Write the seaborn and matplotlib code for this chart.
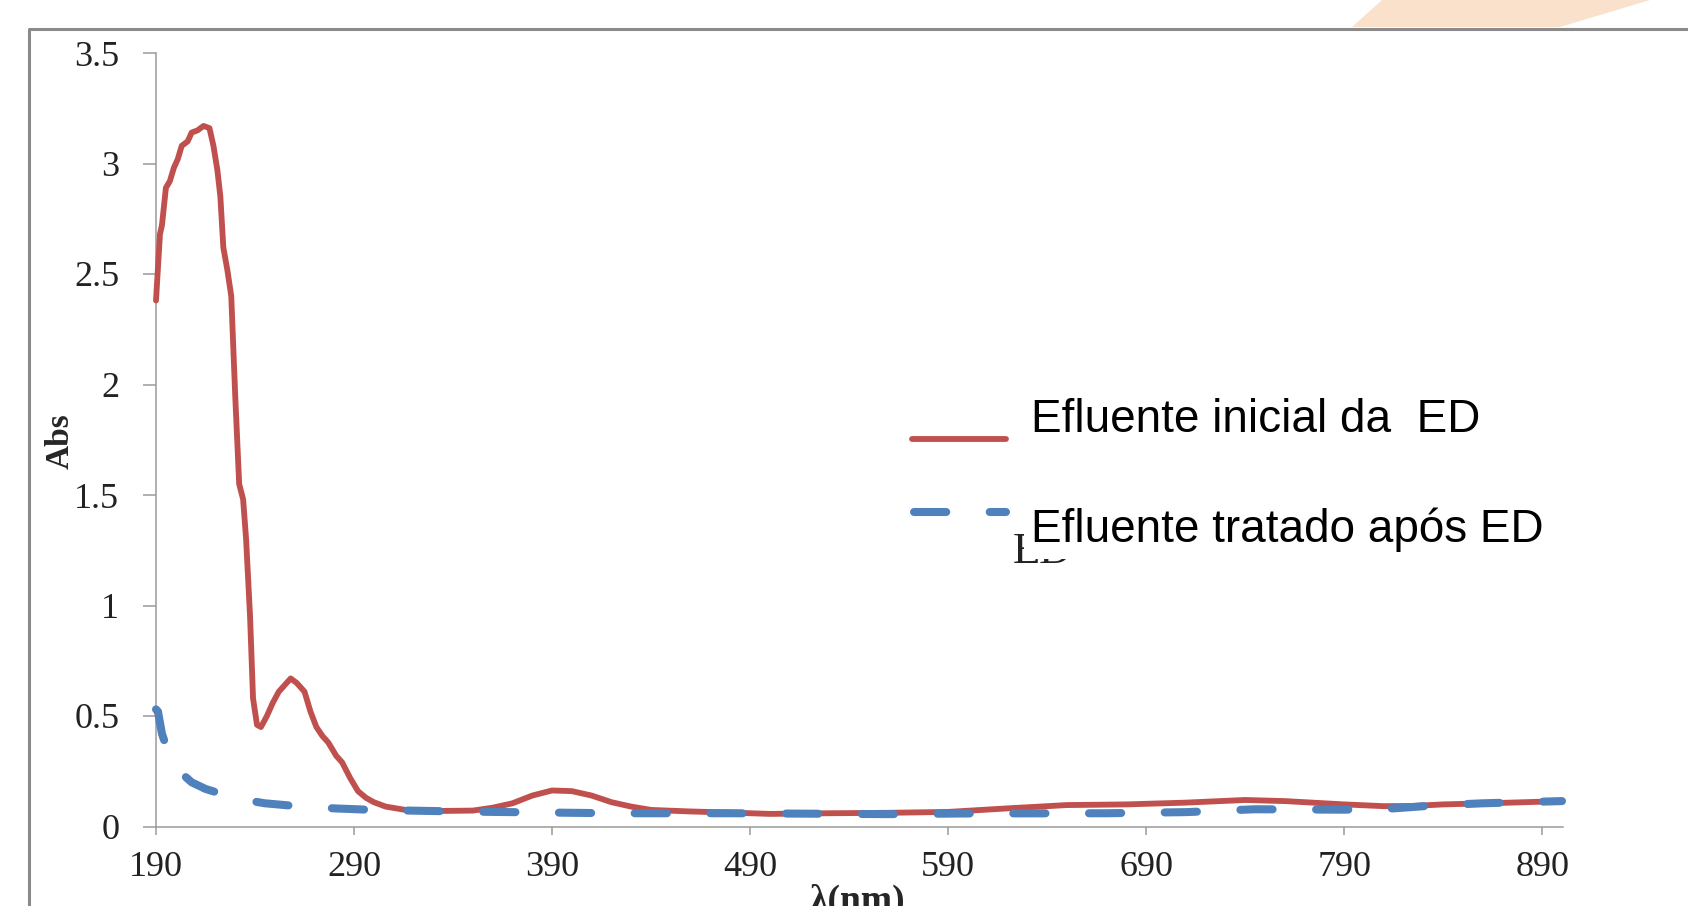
import numpy as np
import pandas as pd
import seaborn as sns
import matplotlib.pyplot as plt
from matplotlib.lines import Line2D
from matplotlib.patches import Polygon

# --- data ---
wl_inicial = [190, 192, 193, 195, 197, 199, 201, 203, 206, 208, 211, 214, 217,
              219, 221, 222.5, 224, 226, 228, 230, 232, 234, 235.5, 237.5, 239,
              241, 243, 246, 249, 252, 255, 258, 261, 265, 268, 271, 274, 277,
              281, 284, 288, 292, 296, 300, 306, 316, 330, 350, 360, 370, 380,
              390, 400, 410, 420, 430, 440, 460, 480, 500, 530, 560, 590, 620,
              650, 680, 710, 740, 760, 790, 810, 825, 840, 870, 900]
abs_inicial = [2.38, 2.68, 2.72, 2.89, 2.92, 2.98, 3.02, 3.08, 3.10, 3.14, 3.15,
               3.17, 3.16, 3.08, 2.97, 2.85, 2.62, 2.52, 2.40, 1.95, 1.55, 1.48,
               1.30, 0.95, 0.58, 0.46, 0.45, 0.50, 0.56, 0.61, 0.64, 0.67, 0.65,
               0.61, 0.52, 0.45, 0.41, 0.38, 0.32, 0.29, 0.22, 0.16, 0.13, 0.11,
               0.09, 0.075, 0.07, 0.072, 0.085, 0.105, 0.14, 0.163, 0.16, 0.14,
               0.11, 0.09, 0.075, 0.068, 0.063, 0.057, 0.06, 0.062, 0.066, 0.082,
               0.097, 0.100, 0.108, 0.12, 0.115, 0.10, 0.092, 0.093, 0.10, 0.107,
               0.115]

wl_tratado = [190, 191, 193, 196, 199, 203, 208, 215, 224, 235, 245, 260, 280,
              300, 330, 360, 420, 480, 560, 600, 670, 710, 745, 790, 815, 835,
              860, 900]
abs_tratado = [0.53, 0.52, 0.42, 0.34, 0.29, 0.24, 0.20, 0.17, 0.145, 0.12,
               0.105, 0.093, 0.082, 0.075, 0.07, 0.066, 0.06, 0.06, 0.056,
               0.059, 0.06, 0.065, 0.078, 0.076, 0.082, 0.095, 0.105, 0.115]

x_ticks = [190, 290, 390, 490, 590, 690, 790, 890]
y_ticks = [0, 0.5, 1, 1.5, 2, 2.5, 3, 3.5]
y_tick_labels = ["0", "0.5", "1", "1.5", "2", "2.5", "3", "3.5"]

label_inicial = "Efluente inicial da  ED"
label_tratado = "Efluente tratado após ED"

RED = "#C0504D"
BLUE = "#4F81BD"
GREY = "#9a9a9a"

sns.set_theme(style="white")
plt.rcParams["font.family"] = ["Liberation Serif", "DejaVu Serif"]

W, H = 1688, 906
fig = plt.figure(figsize=(W / 100, H / 100), dpi=100)


def fx(px):
    return px / W


def fy(py):
    return 1 - py / H


ax = fig.add_axes([fx(156), fy(826.5), fx(1563) - fx(156), fy(53) - fy(826.5)])

df_ini = pd.DataFrame({"wl": wl_inicial, "abs": abs_inicial})
df_tra = pd.DataFrame({"wl": wl_tratado, "abs": abs_tratado})

sns.lineplot(data=df_ini, x="wl", y="abs", ax=ax, color=RED, lw=4.2,
             estimator=None, sort=False, clip_on=False, zorder=3)
sns.lineplot(data=df_tra, x="wl", y="abs", ax=ax, color=BLUE, lw=5.8,
             estimator=None, sort=False, clip_on=False, zorder=4)
blue_line = ax.lines[-1]
blue_line.set_dashes((4.0, 5.4))
blue_line.set_dash_capstyle("round")

ax.set_xlim(190, 900.5)
ax.set_ylim(0, 3.5)
ax.set_xticks(x_ticks)
ax.set_xticklabels([str(t) for t in x_ticks])
ax.set_yticks(y_ticks)
ax.set_yticklabels(y_tick_labels)
ax.set_xlabel("")
ax.set_ylabel("")

for s in ["top", "right"]:
    ax.spines[s].set_visible(False)
for s in ["left", "bottom"]:
    ax.spines[s].set_color(GREY)
    ax.spines[s].set_linewidth(1.1)

ax.tick_params(axis="y", direction="out", length=9.4, width=1.1, color=GREY,
               pad=17, labelsize=26, labelcolor="#222222", left=True)
ax.tick_params(axis="x", direction="out", length=6, width=1.1, color=GREY,
               pad=12, labelsize=26, labelcolor="#222222", bottom=True)

# axis titles
fig.text(fx(60), fy(441), "Abs", rotation=90, ha="center", va="center",
         fontsize=24, fontweight="bold", family=["Liberation Serif", "DejaVu Serif"])
fig.text(fx(857), fy(884), "λ(nm)", ha="center", va="top",
         fontsize=27, fontweight="bold", family=["Liberation Serif", "DejaVu Serif"])

# legend drawn by hand (Excel-like layout)
fig.add_artist(Line2D([fx(912), fx(1006)], [fy(439), fy(439)], color=RED,
                      lw=4.2, solid_capstyle="round"))
leg_blue = Line2D([fx(914), fx(1006)], [fy(512), fy(512)], color=BLUE,
                  lw=5.8, dash_capstyle="round")
leg_blue.set_dashes((4.0, 5.4))
fig.add_artist(leg_blue)

fig.text(fx(1013), fy(563), "ED", ha="left", va="baseline", fontsize=32,
         family=["Liberation Serif", "DejaVu Serif"], color="#222222", zorder=5)
fig.text(fx(1031), fy(530), label_tratado, ha="left", va="center", fontsize=33,
         family=["Liberation Sans", "DejaVu Sans"], color="black", zorder=6,
         bbox=dict(facecolor="white", edgecolor="none", pad=5))
fig.text(fx(1031), fy(420), label_inicial, ha="left", va="center", fontsize=33,
         family=["Liberation Sans", "DejaVu Sans"], color="black", zorder=7)

# outer slide frame and decoration
fig.add_artist(Line2D([fx(29), fx(29), fx(W)], [fy(H), fy(29), fy(29)],
                      color="#8a8a8a", lw=2.2))
fig.add_artist(Polygon([(fx(1352), fy(27)), (fx(1382), fy(0)), (fx(1650), fy(0)),
                        (fx(1560), fy(27))], closed=True, facecolor="#F9E1CB",
                       edgecolor="none", transform=fig.transFigure))

fig.savefig("out.png", dpi=100)
